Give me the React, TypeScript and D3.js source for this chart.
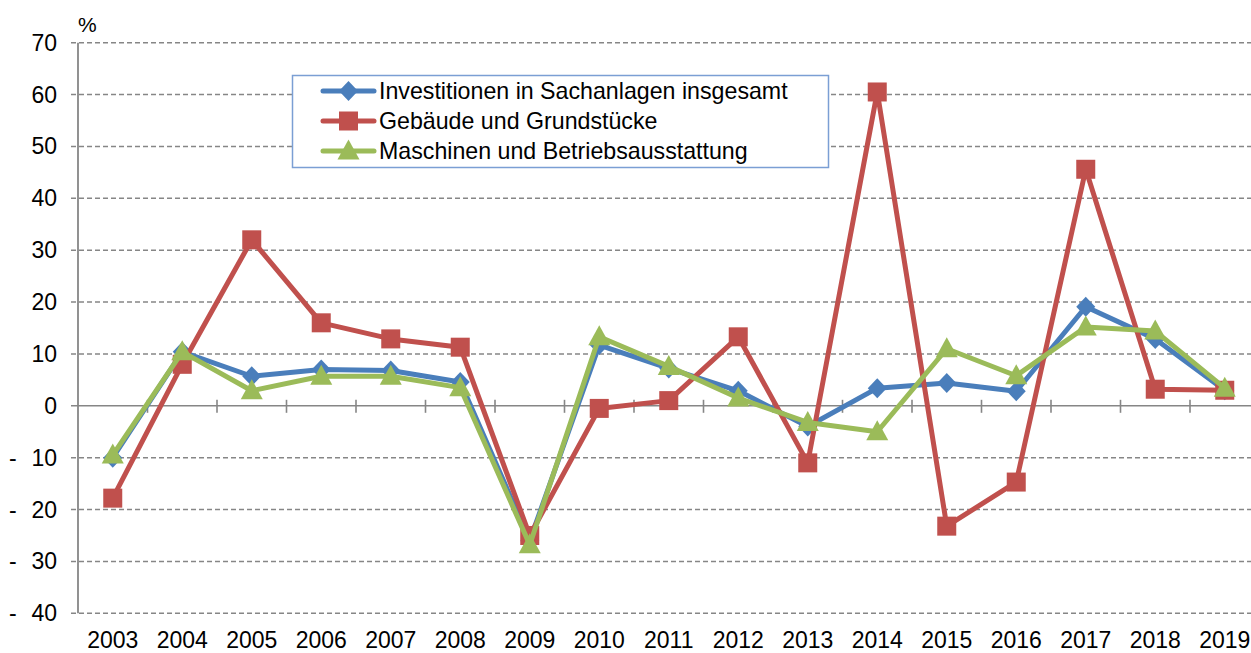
import React from 'react';
import * as d3 from 'd3';

const years = ['2003', '2004', '2005', '2006', '2007', '2008', '2009', '2010', '2011', '2012', '2013', '2014', '2015', '2016', '2017', '2018', '2019'];
const investitionen = [-10, 10.4, 5.7, 7.0, 6.8, 4.6, -26, 11.7, 7.2, 2.9, -4, 3.4, 4.4, 2.8, 19.1, 12.9, 3.0];
const gebaeude = [-17.8, 8.0, 32.0, 16.0, 12.9, 11.3, -25, -0.5, 1.0, 13.3, -11, 60.5, -23.2, -14.7, 45.6, 3.2, 3.0];
const maschinen = [-9.5, 10.4, 2.9, 5.7, 5.7, 3.5, -26.8, 13.3, 7.6, 1.5, -3.2, -5.0, 11.0, 5.8, 15.2, 14.4, 3.4];
const yTicks = [70, 60, 50, 40, 30, 20, 10, 0, -10, -20, -30, -40];
const seriesNames = ['Investitionen in Sachanlagen insgesamt', 'Gebäude und Grundstücke', 'Maschinen und Betriebsausstattung'];

const W = 1251;
const H = 653;
const font = '"Liberation Sans", Arial, sans-serif';
const colors = ['#4a7ebb', '#c0504d', '#9bbb59'];
const shapes = ['diamond', 'square', 'triangle'];

const x = d3.scaleBand<string>().domain(years).range([78, 78 + 17 * 69.5]);
const y = d3.scaleLinear().domain([-40, 70]).range([613.3, 42.7]);

const Marker = ({ shape, cx, cy, color }: { shape: string; cx: number; cy: number; color: string }) => {
  if (shape === 'diamond') {
    return <path d={`M${cx},${cy - 10}L${cx + 9.5},${cy}L${cx},${cy + 10}L${cx - 9.5},${cy}Z`} fill={color} />;
  }
  if (shape === 'square') {
    return <rect x={cx - 9.5} y={cy - 9.5} width={19} height={19} fill={color} />;
  }
  return <path d={`M${cx},${cy - 11.5}L${cx + 11},${cy + 8.5}L${cx - 11},${cy + 8.5}Z`} fill={color} />;
};

export default function App() {
  const all = [investitionen, gebaeude, maschinen];
  const cx = (i: number) => (x(years[i]) as number) + x.bandwidth() / 2;
  const line = d3
    .line<number>()
    .x((_, i) => cx(i))
    .y(d => y(d));

  const legendRows = [91, 121, 151];

  return (
    <svg width={W} height={H} style={{ position: 'absolute', left: 0, top: 0 }} fontFamily={font}>
      <rect width={W} height={H} fill="#fff" />
      {/* grid */}
      {yTicks.map(t => (
        <line
          key={t}
          x1={71}
          x2={W}
          y1={y(t)}
          y2={y(t)}
          stroke="#868686"
          strokeWidth={1.6}
          strokeDasharray={t === 0 ? undefined : '5,3'}
        />
      ))}
      {/* ticks on the zero line */}
      {years.map((yr, i) =>
        i === 0 ? null : (
          <line key={yr} x1={x(yr)} x2={x(yr)} y1={y(0) - 6} y2={y(0) + 7} stroke="#868686" strokeWidth={1.6} />
        )
      )}
      <line x1={78} x2={78} y1={y(70)} y2={y(-40)} stroke="#868686" strokeWidth={1.8} />

      {/* y labels */}
      {yTicks.map(t => (
        <g key={t} fontSize={23} fill="#000">
          {t < 0 && (
            <text x={9} y={y(t) + 8}>
              -
            </text>
          )}
          <text x={57} y={y(t) + 8} textAnchor="end">
            {Math.abs(t)}
          </text>
        </g>
      ))}
      <text x={78} y={32} fontSize={21}>
        %
      </text>

      {/* x labels */}
      {years.map(yr => (
        <text key={yr} x={(x(yr) as number) + x.bandwidth() / 2} y={648} fontSize={23} textAnchor="middle">
          {yr}
        </text>
      ))}

      {/* series */}
      {all.map((s, si) => (
        <g key={si}>
          <path d={line(s) || ''} fill="none" stroke={colors[si]} strokeWidth={5} strokeLinejoin="round" />
          {s.map((v, i) => (
            <Marker key={i} shape={shapes[si]} cx={cx(i)} cy={y(v)} color={colors[si]} />
          ))}
        </g>
      ))}

      {/* legend */}
      <rect x={292.5} y={75.5} width={536} height={92} fill="#fff" stroke="#7b9fd4" strokeWidth={1.5} />
      {seriesNames.map((n, i) => (
        <g key={n}>
          <line x1={323} x2={374} y1={legendRows[i]} y2={legendRows[i]} stroke={colors[i]} strokeWidth={5} strokeLinecap="round" />
          <Marker shape={shapes[i]} cx={348.5} cy={legendRows[i]} color={colors[i]} />
          <text x={379} y={legendRows[i] + 8} fontSize={23.2}>
            {n}
          </text>
        </g>
      ))}
    </svg>
  );
}
